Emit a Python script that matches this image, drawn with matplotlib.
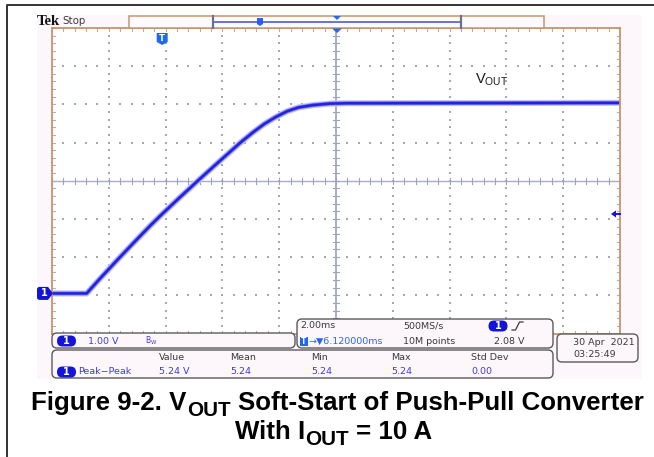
import numpy as np
import matplotlib
matplotlib.use("Agg")
import matplotlib.pyplot as plt
from matplotlib.patches import Rectangle, FancyBboxPatch, Polygon

plt.rcParams['mathtext.fontset'] = 'custom'
plt.rcParams['mathtext.rm'] = 'Liberation Sans'
plt.rcParams['mathtext.bf'] = 'Liberation Sans:bold'

# ---- captured waveform: channel 1, time (ms, relative to trigger) vs volts ----
t_ms = [-3.88, -2.66, -2.20, -1.60, -1.00, -0.40, 0.00, 0.60, 1.27, 2.00, 2.74,
        3.20, 3.60, 4.00, 4.40, 4.80, 5.30, 5.90, 6.50, 16.12]
v_out = [0.00, 0.00, 0.38, 0.86, 1.33, 1.79, 2.08, 2.50, 2.96, 3.45, 3.94,
         4.22, 4.44, 4.62, 4.77, 4.87, 4.93, 4.97, 4.98, 4.99]

# ---- scope settings ----
volts_per_div = 1.00
time_per_div = 2.00       # ms
h_delay = 6.12            # ms, screen centre relative to trigger
v_centre = 2.95           # V at screen centre
trig_level = 2.08         # V
n_xdiv, n_ydiv = 10, 8

meas_headers = ["Value", "Mean", "Min", "Max", "Std Dev"]
meas_values = ["5.24 V", "5.24", "5.24", "5.24", "0.00"]

W, H = 654, 457
fig = plt.figure(figsize=(W / 100, H / 100), dpi=100)

def px_axes(z):
    a = fig.add_axes([0, 0, 1, 1], zorder=z)
    a.set_xlim(0, W)
    a.set_ylim(H, 0)
    a.axis('off')
    a.patch.set_alpha(0)
    return a

bg = px_axes(0)
PINK = '#fdf7fc'
TAN = '#c8946c'
BLUE = '#1414d8'
TBLUE = '#2268ee'
TXT = '#3a3a3a'
VAL = '#3c3ce0'
BOX = '#5a5a5a'

# outer frame and screen background
bg.plot([7, 7, W], [H, 5, 5], color='#333333', lw=1.4, solid_capstyle='butt')
bg.add_patch(Rectangle((37, 15), 605, 364, facecolor=PINK, edgecolor='none'))

# graticule axes
gx0, gx1, gy0, gy1 = 52, 620, 28, 333.5
ax = fig.add_axes([gx0 / W, 1 - gy1 / H, (gx1 - gx0) / W, (gy1 - gy0) / H], zorder=1)
ax.set_facecolor('white')
ax.set_xlim(h_delay - time_per_div * n_xdiv / 2, h_delay + time_per_div * n_xdiv / 2)
ax.set_ylim(v_centre - volts_per_div * n_ydiv / 2, v_centre + volts_per_div * n_ydiv / 2)
ax.set_xticks([])
ax.set_yticks([])
for s in ax.spines.values():
    s.set_color(TAN)
    s.set_linewidth(1.3)

tr = ax.transAxes
DOT = '#a6a8b4'
# dotted grid lines: dots at each minor division
minor_x = np.linspace(0, 1, n_xdiv * 5 + 1)
minor_y = np.linspace(0, 1, n_ydiv * 5 + 1)
for k in range(1, n_xdiv):
    if k == n_xdiv // 2:
        continue
    ax.scatter(np.full_like(minor_y, k / n_xdiv), minor_y, s=1.6, marker='s',
               color=DOT, lw=0, transform=tr, zorder=1)
for k in range(1, n_ydiv):
    if k == n_ydiv // 2:
        continue
    ax.scatter(minor_x, np.full_like(minor_x, k / n_ydiv), s=1.6, marker='s',
               color=DOT, lw=0, transform=tr, zorder=1)

# centre crosshair with minor ticks
ax.plot([0.5, 0.5], [0, 1], color='#a8aec4', lw=1.4, transform=tr, zorder=1.5)
ax.plot([0, 1], [0.5, 0.5], color='#a8aec4', lw=1.0, transform=tr, zorder=1.5)
tick_h = 3.0 / (gy1 - gy0)
tick_w = 3.0 / (gx1 - gx0)
for xf in minor_x:
    ax.plot([xf, xf], [0.5 - tick_h, 0.5 + tick_h], color='#9ea4b8', lw=0.8, transform=tr, zorder=1.5)
    ax.plot([xf, xf], [1 - tick_h, 1], color='#b0b0b8', lw=0.8, transform=tr, zorder=1.5)
    ax.plot([xf, xf], [0, tick_h], color='#b0b0b8', lw=0.8, transform=tr, zorder=1.5)
for yf in minor_y:
    ax.plot([0.5 - tick_w, 0.5 + tick_w], [yf, yf], color='#9ea4b8', lw=0.8, transform=tr, zorder=1.5)
    ax.plot([0, tick_w], [yf, yf], color='#b0b0b8', lw=0.8, transform=tr, zorder=1.5)
    ax.plot([1 - tick_w, 1], [yf, yf], color='#b0b0b8', lw=0.8, transform=tr, zorder=1.5)

# waveform trace with phosphor glow
ax.plot(t_ms, v_out, color='#c4c4f6', lw=4.4, solid_capstyle='butt', solid_joinstyle='round', zorder=2)
ax.plot(t_ms, v_out, color='#7878ee', lw=2.8, solid_capstyle='butt', solid_joinstyle='round', zorder=2.1)
ax.plot(t_ms, v_out, color='#2222e2', lw=1.8, solid_capstyle='butt', solid_joinstyle='round', zorder=2.2)

ax.text(0.744, 0.829, r'$\mathrm{V_{OUT}}$', transform=tr, fontsize=10.5,
        color='#1a1a1a', ha='left', va='center', zorder=3)

# ---- foreground overlay: header, markers and readouts ----
fg = px_axes(2)
fg.text(36.5, 21.5, 'Tek', fontsize=10.6, fontweight='bold', family='Liberation Serif',
        color='#111111', ha='left', va='center')
fg.text(62, 21.5, 'Stop', fontsize=7.4, color=TXT, ha='left', va='center')

# record view bar
fg.add_patch(Rectangle((129, 16), 415, 12, facecolor='#fffafd', edgecolor=TAN, lw=1.1))
fg.plot([213, 461], [21.5, 21.5], color='#3a4de0', lw=1.1)
fg.plot([213, 213], [16, 28], color='#6a7090', lw=1.6)
fg.plot([461, 461], [16, 28], color='#6a7090', lw=1.6)
fg.add_patch(Polygon([[257, 18], [263, 18], [263, 24], [260, 26], [257, 24]],
                     closed=True, facecolor=TBLUE, edgecolor='none'))
fg.add_patch(Polygon([[333, 16], [341, 16], [337, 20]], closed=True, facecolor=TBLUE, edgecolor='none'))
fg.add_patch(Polygon([[332, 28.5], [342, 28.5], [337, 33]], closed=True, facecolor=TBLUE, edgecolor='none'))

def px_x(t):
    return gx0 + (t - ax.get_xlim()[0]) / (ax.get_xlim()[1] - ax.get_xlim()[0]) * (gx1 - gx0)

def px_y(v):
    return gy1 - (v - ax.get_ylim()[0]) / (ax.get_ylim()[1] - ax.get_ylim()[0]) * (gy1 - gy0)

# trigger position icon
tx = px_x(0.0)
fg.add_patch(Polygon([[tx - 5.5, 33], [tx + 5.5, 33], [tx + 5.5, 42], [tx, 45], [tx - 5.5, 42]],
                     closed=True, facecolor=TBLUE, edgecolor='none'))
fg.text(tx, 38.3, 'T', color='white', fontsize=6, fontweight='bold', ha='center', va='center')

# channel 1 ground marker
gy = px_y(0.0)
fg.add_patch(FancyBboxPatch((37, gy - 6.5), 10, 13, boxstyle='round,pad=0,rounding_size=2.5',
                            facecolor=BLUE, edgecolor='none'))
fg.add_patch(Polygon([[45, gy - 6.5], [48, gy - 6.5], [53, gy], [48, gy + 6.5], [45, gy + 6.5]],
                     closed=True, facecolor=BLUE, edgecolor='none'))
fg.text(44, gy, '1', color='white', fontsize=7, fontweight='bold', ha='center', va='center')

# trigger level arrow
ly = px_y(trig_level)
fg.add_patch(Polygon([[611, ly], [616, ly - 3.5], [616, ly + 3.5]], closed=True,
                     facecolor=BLUE, edgecolor='none'))
fg.plot([615, 620], [ly, ly], color=BLUE, lw=1.4)

def rbox(x, y, w, h):
    fg.add_patch(FancyBboxPatch((x, y), w, h, boxstyle='round,pad=0,rounding_size=5',
                                facecolor=PINK, edgecolor=BOX, lw=1.0))

def ch_badge(xc, yc):
    fg.add_patch(FancyBboxPatch((xc - 9.5, yc - 5.5), 19, 11, boxstyle='round,pad=0,rounding_size=5.5',
                                facecolor=BLUE, edgecolor='none'))
    fg.text(xc, yc + 0.3, '1', color='white', fontsize=7, fontweight='bold', ha='center', va='center')

FS = 6.8
# vertical readout
rbox(52, 333, 243, 15)
ch_badge(66.5, 341)
fg.text(88, 341, f'{volts_per_div:.2f} V', fontsize=FS, color=VAL, ha='left', va='center')
fg.text(145, 341, r'$\mathregular{B_{W}}$', fontsize=5.5, color=VAL, ha='left', va='center')

# horizontal / trigger readout
rbox(297, 319, 256, 29)
fg.text(300, 326, f'{time_per_div:.2f}ms', fontsize=FS, color=TXT, ha='left', va='center')
fg.text(403, 326, '500MS/s', fontsize=FS, color=TXT, ha='left', va='center')
ch_badge(498, 326)
fg.plot([512, 515.5, 519.5, 523], [330, 330, 322, 322], color=TXT, lw=0.9)
fg.add_patch(Rectangle((300, 337), 7.5, 9, facecolor=TBLUE, edgecolor='none'))
fg.text(303.8, 341.6, 'T', color='white', fontsize=5.5, fontweight='bold', ha='center', va='center')
fg.text(308, 341.6, f'\u2192\u25bc{h_delay:.6f}ms', fontsize=FS, color=TBLUE, ha='left', va='center')
fg.text(403, 341.6, '10M points', fontsize=FS, color=TXT, ha='left', va='center')
fg.text(494, 341.6, f'{trig_level:.2f} V', fontsize=FS, color=TXT, ha='left', va='center')

# date box
rbox(557, 334, 81, 28)
fg.text(573, 342.5, '30 Apr  2021', fontsize=FS, color=TXT, ha='left', va='center')
fg.text(573, 354.5, '03:25:49', fontsize=FS, color=TXT, ha='left', va='center')

# measurement readout
rbox(52, 350, 501, 28)
ch_badge(66.5, 372)
fg.text(78, 372, 'Peak\u2212Peak', fontsize=FS, color=VAL, ha='left', va='center')
meas_x = [159, 230, 311, 391, 471]
for xm, hd, vl in zip(meas_x, meas_headers, meas_values):
    fg.text(xm, 358, hd, fontsize=FS, color=TXT, ha='left', va='center')
    fg.text(xm, 372, vl, fontsize=FS, color=VAL, ha='left', va='center')

# caption, laid out piece by piece so the subscripts can be sized freely
CAP = 18.6
SUB = CAP * 0.8
SPACE = 7.2

def caption_line(pieces, xc, ybase):
    arts = []
    for txt, size, dy, gap in pieces:
        a = fg.text(0, ybase + dy, txt, fontsize=size, fontweight='bold',
                    family='Liberation Sans', color='black', ha='left', va='baseline')
        arts.append((a, gap))
    fig.canvas.draw()
    r = fig.canvas.get_renderer()
    widths = [a.get_window_extent(r).width for a, _ in arts]
    total = sum(widths) + sum(g for _, g in arts)
    x = xc - total / 2
    for (a, gap), w in zip(arts, widths):
        a.set_x(x)
        x += w + gap

caption_line([("Figure 9-2. V", CAP, 0, 0.5), ("OUT", SUB, 6, SPACE),
              ("Soft-Start of Push-Pull Converter", CAP, 0, 0)], 337.7, 410)
caption_line([("With I", CAP, 0, 0.5), ("OUT", SUB, 6, SPACE),
              ("= 10 A", CAP, 0, 0)], 333.5, 439.3)

fig.savefig('out.png', dpi=100)
